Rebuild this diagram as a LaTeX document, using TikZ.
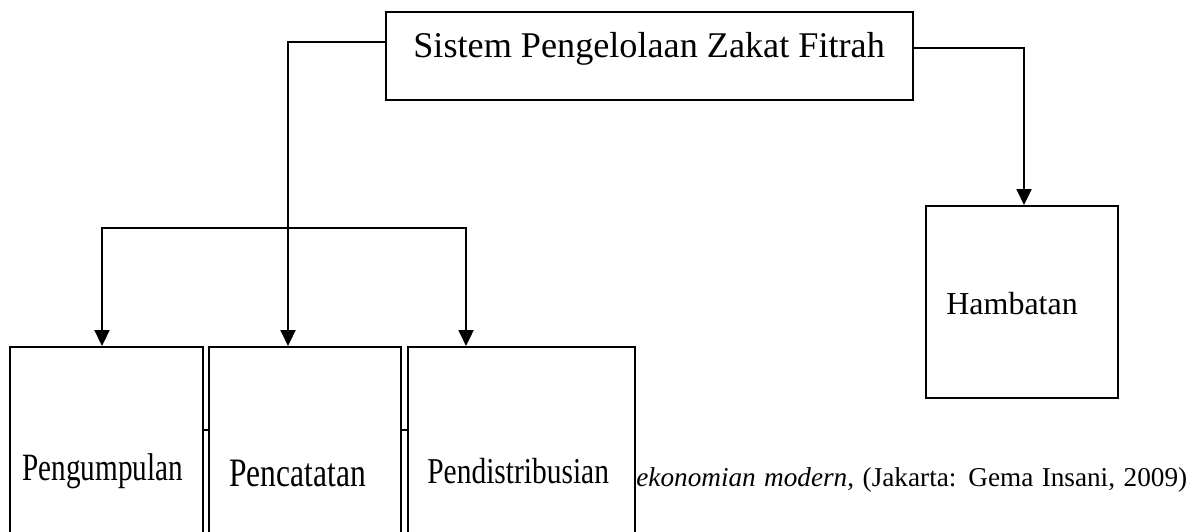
\documentclass[tikz,border=0pt]{standalone}
\usepackage{fontspec}
\usepackage{graphicx}
\setmainfont{Liberation Serif}
\usetikzlibrary{arrows.meta,fit,calc}

\tikzset{
  box/.style={draw, line width=1.2pt, fill=white, inner sep=0pt},
  link/.style={line width=1.2pt},
  arr/.style={line width=1.2pt, -{Triangle[length=9pt,width=8.5pt]}},
  lbl/.style={anchor=base west, inner sep=0pt},
}

\begin{document}
\begin{tikzpicture}[x=0.02cm, y=-0.02cm]
\useasboundingbox (0,0) rectangle (1192,531);
\clip (0,0) rectangle (1192,531);

% text behind the boxes
\node[lbl, font=\fontsize{15.5}{17}\selectfont] (cite) at (636,486)
  {\makebox[11.02cm][s]{\textit{ekonomian modern}, (Jakarta: Gema Insani, 2009)}};

% boxes
\node[box, fit={(386,12) (913,100)}] (sistem) {};
\node[lbl, font=\fontsize{20.6}{22}\selectfont] (sistemtxt) at (413,57) {Sistem Pengelolaan Zakat Fitrah};

\node[box, fit={(926,206) (1118,398)}] (hambatan) {};
\node[lbl, font=\fontsize{18.2}{20}\selectfont] (hambatantxt) at (946,314) {Hambatan};

\draw[link] (203,430) -- (209,430);
\draw[link] (401,430) -- (408,430);

\node[box, fit={(10,347) (203,560)}] (kumpul) {};
\node[box, fit={(209,347) (401,560)}] (catat) {};
\node[box, fit={(408,347) (635,560)}] (distribusi) {};
\node[lbl] (kumpultxt) at (22,480) {\scalebox{0.755}[1]{\fontsize{22}{24}\selectfont Pengumpulan}};
\node[lbl] (catattxt) at (229,486) {\scalebox{0.78}[1]{\fontsize{23}{25}\selectfont Pencatatan}};
\node[lbl] (distribusitxt) at (427,483) {\scalebox{0.81}[1]{\fontsize{20.7}{23}\selectfont Pendistribusian}};

% connectors
\coordinate (bar) at (288,228);
\draw[arr] ($(sistem.north west)+(0,31)$) -| ([xshift=-0.34cm]catat.north);
\draw[arr] (bar) -| ([xshift=-0.09cm]kumpul.north);
\draw[arr] (bar) -| ([xshift=-1.11cm]distribusi.north);
\draw[arr] ($(sistem.north east)+(0,37)$) -| ([xshift=0.04cm]hambatan.north);
\end{tikzpicture}
\end{document}
